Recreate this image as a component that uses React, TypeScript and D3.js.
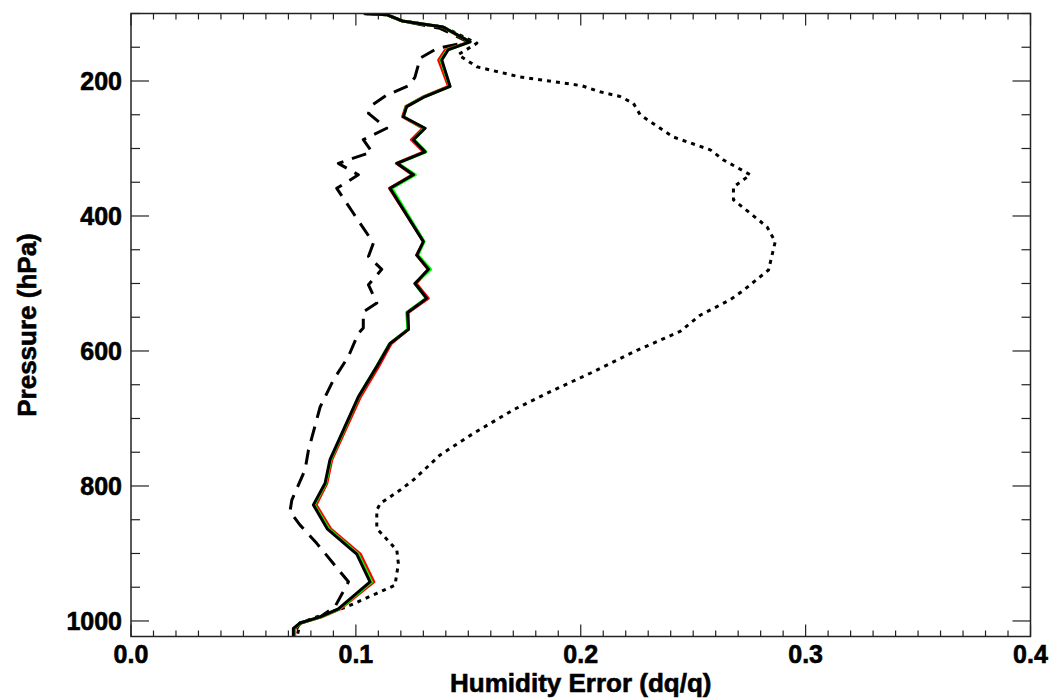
import React from 'react';
import * as d3 from 'd3';

// pressure levels (hPa) and humidity errors (dq/q)
const solidPressure = [100, 102, 111, 120, 142, 154, 169, 208, 223, 238, 253, 270, 287, 305, 322, 339, 359, 438, 458, 479, 500, 522, 543, 568, 589, 623, 668, 761, 796, 828, 864, 901, 942, 982, 994, 1003, 1011, 1025];
const blackErr = [0.1036, 0.1139, 0.1206, 0.1388, 0.1508, 0.141, 0.1382, 0.1419, 0.1308, 0.1226, 0.1211, 0.1308, 0.1256, 0.1308, 0.1183, 0.1256, 0.1152, 0.13, 0.1271, 0.1323, 0.1263, 0.1315, 0.123, 0.1234, 0.1152, 0.1093, 0.1011, 0.0885, 0.0863, 0.0811, 0.0874, 0.1004, 0.1063, 0.0922, 0.0841, 0.0752, 0.0722, 0.0722];
const redErr = [0.1036, 0.1139, 0.1206, 0.1385, 0.1505, 0.1398, 0.1368, 0.1412, 0.1302, 0.1222, 0.1208, 0.1298, 0.1247, 0.1302, 0.118, 0.1252, 0.115, 0.1302, 0.127, 0.1322, 0.1268, 0.1322, 0.1232, 0.1233, 0.1157, 0.1101, 0.102, 0.0893, 0.0871, 0.0823, 0.0889, 0.102, 0.108, 0.093, 0.0848, 0.0757, 0.0728, 0.0728];
const greenErr = [0.1036, 0.1139, 0.1206, 0.1388, 0.1508, 0.1406, 0.1378, 0.1418, 0.1306, 0.1224, 0.1212, 0.1304, 0.1258, 0.1311, 0.1186, 0.1264, 0.116, 0.1303, 0.1276, 0.1332, 0.1262, 0.1313, 0.1226, 0.1231, 0.115, 0.1092, 0.1012, 0.0888, 0.0866, 0.0815, 0.088, 0.101, 0.107, 0.0926, 0.0844, 0.0754, 0.0725, 0.0725];

const dashPressure = [100, 102, 111, 122, 142, 152, 166, 194, 206, 221, 236, 248, 270, 287, 305, 322, 339, 359, 396, 440, 460, 479, 502, 529, 542, 566, 574, 608, 643, 683, 747, 776, 821, 838, 858, 885, 942, 979, 994, 1003, 1013, 1025];
const dashErr = [0.1036, 0.1139, 0.1206, 0.1374, 0.1499, 0.136, 0.1286, 0.1263, 0.1241, 0.1137, 0.1071, 0.1056, 0.1137, 0.1033, 0.1071, 0.0922, 0.1011, 0.0915, 0.0989, 0.1078, 0.1056, 0.1115, 0.1056, 0.1093, 0.1033, 0.1033, 0.1011, 0.0967, 0.09, 0.0841, 0.0789, 0.0774, 0.0715, 0.0707, 0.0752, 0.0826, 0.0967, 0.0907, 0.0841, 0.0752, 0.0734, 0.0734];

const dotPressure = [100, 102, 111, 120, 144, 161, 179, 194, 201, 207, 216, 223, 233, 250, 283, 290, 302, 317, 339, 357, 376, 396, 416, 438, 480, 510, 524, 547, 571, 599, 633, 658, 687, 722, 754, 791, 806, 826, 836, 863, 895, 915, 947, 959, 979, 994, 1003, 1025];
const dotErr = [0.1036, 0.1139, 0.1206, 0.1388, 0.1538, 0.1455, 0.1538, 0.173, 0.1879, 0.2005, 0.2086, 0.2175, 0.2234, 0.2264, 0.2412, 0.2472, 0.2576, 0.2635, 0.2754, 0.2679, 0.2679, 0.2754, 0.2828, 0.2865, 0.2835, 0.2724, 0.2665, 0.2531, 0.2442, 0.225, 0.2042, 0.1879, 0.1701, 0.1523, 0.1375, 0.1256, 0.1197, 0.1108, 0.1093, 0.1093, 0.1182, 0.1189, 0.1174, 0.1093, 0.096, 0.0826, 0.0752, 0.0737];

const xMajor = [0, 0.1, 0.2, 0.3, 0.4];
const yMajor = [200, 400, 600, 800, 1000];

const W = 1056;
const H = 700;
const box = { left: 131, right: 1030.5, top: 13.5, bottom: 636.5 };
const font = '"Liberation Sans", Arial, Helvetica, sans-serif';

const App = () => {
    const x = d3.scaleLinear().domain([0, 0.4]).range([box.left, box.right]);
    const y = d3.scaleLinear().domain([100, 1023]).range([box.top, box.bottom]);

    const line = (ps: number[], vs: number[]) =>
        d3.line<number>()
            .x((_, i) => x(vs[i]))
            .y(p => y(p))(ps) || '';

    const xMinor = d3.range(0, 41).map(i => i / 100);
    const yMinor = d3.range(100, 1001, 50);

    // IDL style tick lengths: x ticks scale with plot height, y ticks with width
    const xTickMaj = 12, xTickMin = 6;
    const yTickMaj = 18, yTickMin = 9;
    const axisColor = '#222';

    return (
        <svg width={W} height={H} style={{ position: 'absolute', left: 0, top: 0, background: '#fff' }}>
            <defs>
                <clipPath id="plotClip">
                    <rect x={box.left} y={box.top} width={box.right - box.left} height={box.bottom - box.top} />
                </clipPath>
            </defs>

            {/* ticks */}
            <g stroke={axisColor} strokeWidth={1.2}>
                {xMinor.map((v, i) => {
                    const len = i % 10 === 0 ? xTickMaj : xTickMin;
                    return (
                        <g key={'xt' + i}>
                            <line x1={x(v)} x2={x(v)} y1={box.bottom} y2={box.bottom - len} />
                            <line x1={x(v)} x2={x(v)} y1={box.top} y2={box.top + len} />
                        </g>
                    );
                })}
                {yMinor.map((p, i) => {
                    const len = p % 200 === 0 ? yTickMaj : yTickMin;
                    return (
                        <g key={'yt' + i}>
                            <line x1={box.left} x2={box.left + len} y1={y(p)} y2={y(p)} />
                            <line x1={box.right} x2={box.right - len} y1={y(p)} y2={y(p)} />
                        </g>
                    );
                })}
            </g>

            {/* curves */}
            <g clipPath="url(#plotClip)" fill="none" strokeLinejoin="round">
                <path d={line(dotPressure, dotErr)} stroke="#000" strokeWidth={3} strokeDasharray="4,5" />
                <path d={line(dashPressure, dashErr)} stroke="#000" strokeWidth={3} strokeDasharray="15,9" />
                <path d={line(solidPressure, redErr)} stroke="#ff0000" strokeWidth={3} />
                <path d={line(solidPressure, greenErr)} stroke="#00ff00" strokeWidth={3} />
                <path d={line(solidPressure, blackErr)} stroke="#000" strokeWidth={3} />
            </g>

            {/* frame */}
            <rect x={box.left} y={box.top} width={box.right - box.left} height={box.bottom - box.top}
                fill="none" stroke={axisColor} strokeWidth={1.5} />

            {/* tick labels */}
            <g fontFamily={font} fontWeight="bold" fontSize={25} fill="#000" stroke="#000" strokeWidth={0.6}>
                {xMajor.map(v => (
                    <text key={'xl' + v} x={x(v)} y={663} textAnchor="middle">{v.toFixed(1)}</text>
                ))}
                {yMajor.map(p => (
                    <text key={'yl' + p} x={box.left - 9} y={y(p) + 9} textAnchor="end">{p}</text>
                ))}
            </g>

            {/* axis titles */}
            <g fontFamily={font} fontWeight="bold" fontSize={26} fill="#000" stroke="#000" strokeWidth={0.6}>
                <text x={(box.left + box.right) / 2} y={692} textAnchor="middle">Humidity Error (dq/q)</text>
                <text transform={`translate(36,${(box.top + box.bottom) / 2}) rotate(-90)`} textAnchor="middle">Pressure (hPa)</text>
            </g>
        </svg>
    );
};

export default App;
